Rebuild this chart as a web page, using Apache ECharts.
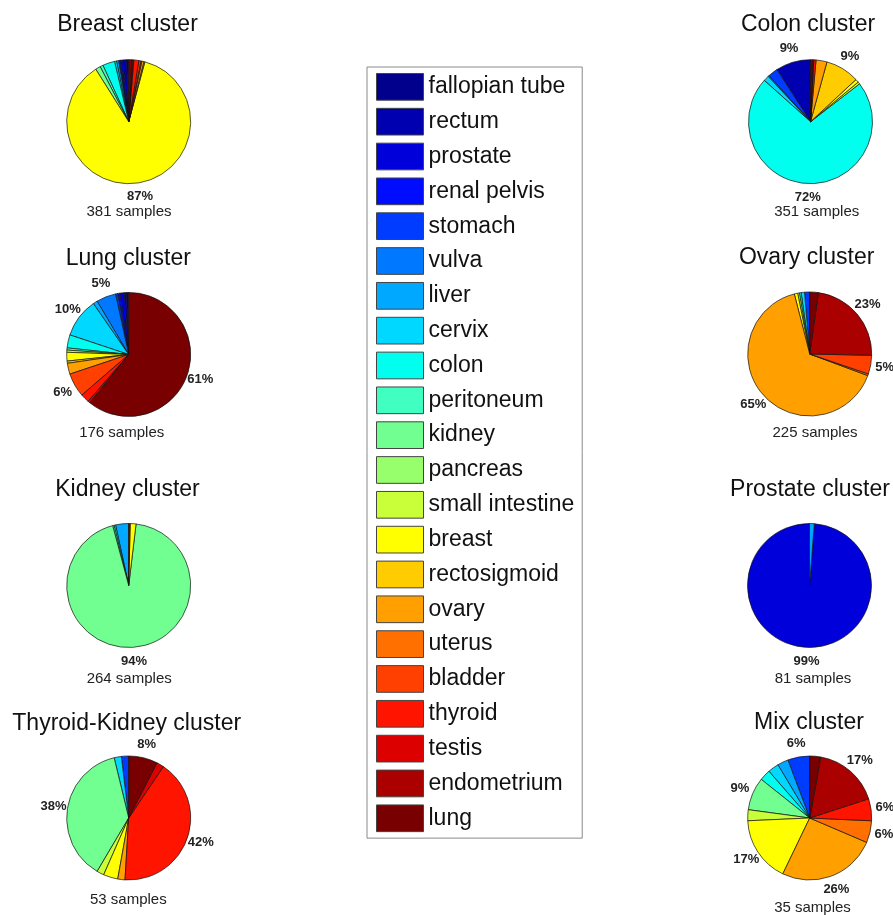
<!DOCTYPE html>
<html>
<head>
<meta charset="utf-8">
<script src="https://cdn.jsdelivr.net/npm/echarts@6/dist/echarts.min.js"></script>
<style>
html,body{margin:0;padding:0;background:#fff;}
#chart{width:893px;height:915px;}
</style>
</head>
<body>
<div id="chart"></div>
<script>
// ---- data ----
const categories = ["fallopian tube","rectum","prostate","renal pelvis","stomach","vulva","liver","cervix","colon","peritoneum","kidney","pancreas","small intestine","breast","rectosigmoid","ovary","uterus","bladder","thyroid","testis","endometrium","lung"];
const categoryColors = ["#00008c","#0000b0","#0000da","#000cff","#003cff","#0078ff","#00a8ff","#00d8ff","#00ffee","#40ffc0","#70ff90","#98ff6c","#c8ff38","#ffff00","#ffcc00","#ffa000","#ff7000","#ff4000","#ff1400","#dc0000","#aa0000","#780000"];

const clusterNames = ["Breast cluster","Lung cluster","Kidney cluster","Thyroid-Kidney cluster","Colon cluster","Ovary cluster","Prostate cluster","Mix cluster"];
const sampleCounts = [381,176,264,53,351,225,81,35];

//                      fal rec pro ren sto vul liv cer col per kid pan sin bre rsg ova ute bla thy tes end lun
const breastCluster   = [2,  4,  2,  1,  1,  0,  2,  2,  12, 3,  5,  0,  0,  331,1,  2,  1,  2,  5,  1,  1,  3];
const lungCluster     = [1,  1,  2,  1,  1,  9,  2,  18, 6,  1,  0,  0,  1,  4,  1,  5,  0,  11, 4,  1,  0,  107];
const kidneyCluster   = [0,  0,  0,  0,  0,  0,  9,  0,  1,  1,  248,0,  0,  4,  0,  0,  0,  0,  0,  0,  1,  0];
const thyroidKidneyCluster = [0,0,0,  0,  1,  0,  0,  1,  0,  0,  20, 0,  1,  2,  0,  1,  0,  0,  22, 1,  0,  4];
const colonCluster    = [0,  32, 0,  0,  9,  0,  1,  5,  253,0,  0,  0,  2,  3,  31, 10, 0,  0,  2,  0,  1,  2];
const ovaryCluster    = [0,  0,  0,  0,  3,  0,  0,  2,  1,  0,  0,  0,  1,  2,  0,  147,1,  11, 0,  0,  52, 5];
const prostateCluster = [0,  0,  80, 0,  0,  0,  1,  0,  0,  0,  0,  0,  0,  0,  0,  0,  0,  0,  0,  0,  0,  0];
const mixCluster      = [0,  0,  0,  0,  2,  0,  1,  1,  1,  0,  3,  0,  1,  6,  0,  9,  2,  0,  2,  0,  6,  1];

const clusterValues = [breastCluster,lungCluster,kidneyCluster,thyroidKidneyCluster,colonCluster,ovaryCluster,prostateCluster,mixCluster];

// ---- layout (positions only) ----
const pieCenters = [[128.7,121.7],[128.7,354.5],[128.7,585.5],[128.7,818],[810.5,121.7],[809.7,354],[809.5,585.5],[809.7,818]];
const titlePos   = [[127.5,25],[128.3,258.3],[127.5,490],[126.7,723.3],[808,25],[806.7,258],[810,490],[809,723]];
const samplePos  = [[129,212],[121.7,433.3],[129.2,679],[128.3,900],[816.7,212],[815,432.7],[813,679],[812.5,908]];

const FONT = "'Liberation Sans', Arial, Helvetica, sans-serif";

function pieData(values){
  return categories.map((name,i)=>({
    name: name,
    value: values[i],
    itemStyle: {color: categoryColors[i], borderWidth: values[i] > 0 ? 0.7 : 0}
  }));
}

const series = clusterValues.map((vals,k)=>({
  type:'pie',
  name: clusterNames[k],
  radius: 62,
  center: pieCenters[k],
  startAngle: 90,
  clockwise: false,
  avoidLabelOverlap: false,
  silent: true,
  emphasis: {disabled: true},
  data: pieData(vals),
  itemStyle: {borderColor:'#111', borderWidth:0.7},
  label: {
    show: true,
    position: 'outside',
    distanceToLabelLine: 0,
    fontSize: 13,
    fontWeight: 'bold',
    fontFamily: FONT,
    color: '#222',
    formatter: p => (p.percent >= 4.5 ? Math.round(p.percent) + '%' : '')
  },
  labelLine: {show:false, length:14, length2:0},
  labelLayout: {align:'center', verticalAlign:'middle'}
}));

const graphics = [];
clusterNames.forEach((t,k)=>{
  graphics.push({type:'text', x:titlePos[k][0], y:titlePos[k][1], silent:true,
    style:{text:t, textAlign:'center', textVerticalAlign:'middle', font:'23px ' + FONT, fill:'#111'}});
  graphics.push({type:'text', x:samplePos[k][0], y:samplePos[k][1], silent:true,
    style:{text:sampleCounts[k] + ' samples', textAlign:'center', textVerticalAlign:'middle', font:'15px ' + FONT, fill:'#222'}});
});

const chart = echarts.init(document.getElementById('chart'), null, {renderer:'canvas'});
chart.setOption({
  animation: false,
  backgroundColor: '#fff',
  legend: {
    data: categories,
    orient: 'vertical',
    left: 367, top: 67,
    padding: [6, 8, 6, 9],
    itemWidth: 47, itemHeight: 26.7, itemGap: 7.13,
    icon: 'rect',
    borderColor: '#8a8a8a', borderWidth: 1,
    backgroundColor: '#fff',
    selectedMode: false,
    itemStyle: {borderColor:'#444', borderWidth:1},
    textStyle: {fontSize: 23, lineHeight: 26, fontFamily: FONT, color: '#111'}
  },
  graphic: graphics,
  series: series
});
</script>
</body>
</html>
